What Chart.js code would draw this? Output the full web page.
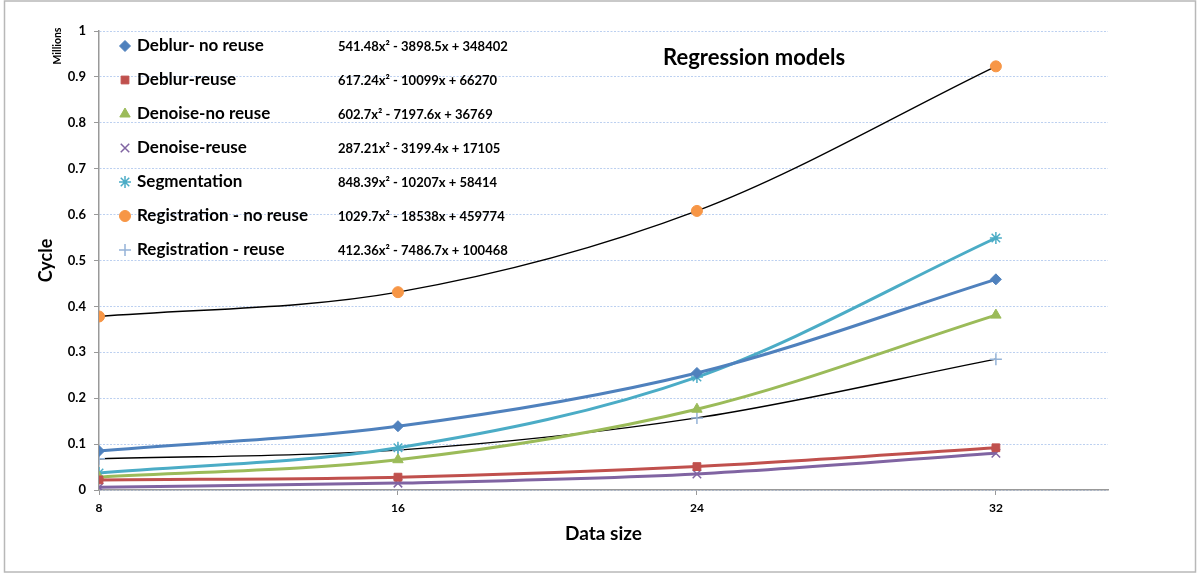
<!DOCTYPE html>
<html><head><meta charset="utf-8">
<script src="https://cdn.jsdelivr.net/npm/chart.js@4"></script>
<style>html,body{margin:0;padding:0;background:#fff}#wrap{width:1200px;height:574px;position:relative}canvas{display:block}</style>
</head><body><div id="wrap"><canvas id="c" width="1200" height="574"></canvas></div>
<script>
const dataSizes = [8, 16, 24, 32];
const xTickValues = [8, 16, 24, 32];
const deblurNoReuse = [0.085, 0.139, 0.255, 0.459];
const deblurReuse = [0.022, 0.028, 0.051, 0.092];
const denoiseNoReuse = [0.028, 0.066, 0.176, 0.381];
const denoiseReuse = [0.006, 0.015, 0.035, 0.080];
const segmentation = [0.037, 0.092, 0.246, 0.549];
const registrationNoReuse = [0.378, 0.431, 0.608, 0.923];
const registrationReuse = [0.068, 0.087, 0.157, 0.285];
const seriesNames = ['Deblur- no reuse', 'Deblur-reuse', 'Denoise-no reuse', 'Denoise-reuse', 'Segmentation', 'Registration - no reuse', 'Registration - reuse'];
const equations = ['541.48x² - 3898.5x + 348402', '617.24x² - 10099x + 66270', '602.7x² - 7197.6x + 36769', '287.21x² - 3199.4x + 17105', '848.39x² - 10207x + 58414', '1029.7x² - 18538x + 459774', '412.36x² - 7486.7x + 100468'];
const chartTitle = 'Regression models';
const yUnitLabel = 'Millions';

const FONT = 'Lato, "Open Sans", "Liberation Sans", sans-serif';
const seriesValues = [deblurNoReuse, deblurReuse, denoiseNoReuse, denoiseReuse, segmentation, registrationNoReuse, registrationReuse];
const styles = [
  {line:'#4F81BD', w:3, ps:'rectRot', r:5.5, bg:'#4F81BD', bc:'#4F81BD', bw:1},
  {line:'#C0504D', w:3, ps:'rect', r:5.5, bg:'#C0504D', bc:'#C0504D', bw:1},
  {line:'#9BBB59', w:3, ps:'triangle', r:6, bg:'#9BBB59', bc:'#9BBB59', bw:1},
  {line:'#8064A2', w:3, ps:'crossRot', r:6, bg:'#8064A2', bc:'#8064A2', bw:1.5},
  {line:'#4BACC6', w:3, ps:'star', r:6, bg:'#4BACC6', bc:'#4BACC6', bw:1.5},
  {line:'#000000', w:1.3, ps:'circle', r:5.5, bg:'#F79646', bc:'#F79646', bw:1},
  {line:'#000000', w:1.3, ps:'cross', r:6, bg:'#95B3D7', bc:'#95B3D7', bw:1.5}
];

const datasets = seriesNames.map((name, i) => ({
  label: name,
  data: dataSizes.map((x, j) => ({x: x, y: seriesValues[i][j]})),
  borderColor: styles[i].line,
  borderWidth: styles[i].w,
  pointStyle: styles[i].ps,
  pointRadius: styles[i].r,
  pointBackgroundColor: styles[i].bg,
  pointBorderColor: styles[i].bc,
  pointBorderWidth: styles[i].bw,
  cubicInterpolationMode: 'monotone',
  fill: false
}));

const decoPlugin = {
  id: 'deco',
  beforeDraw(chart) {
    const ctx = chart.ctx;
    ctx.save();
    ctx.fillStyle = '#fff';
    ctx.fillRect(0, 0, chart.width, chart.height);
    ctx.restore();
  },
  afterDraw(chart) {
    const ctx = chart.ctx;
    ctx.save();
    chart.data.datasets.forEach((ds, i) => {
      const y = 46 + 34 * i;
      ctx.fillStyle = ds.pointBackgroundColor;
      ctx.strokeStyle = ds.pointBorderColor;
      ctx.lineWidth = ds.pointBorderWidth;
      Chart.helpers.drawPoint(ctx, {pointStyle: ds.pointStyle, radius: ds.pointRadius, rotation: 0, borderWidth: ds.pointBorderWidth}, 125, y);
      ctx.fillStyle = '#000';
      ctx.font = 'bold 17px ' + FONT;
      ctx.textAlign = 'left';
      ctx.textBaseline = 'middle';
      ctx.fillText(ds.label, 137, y);
      ctx.font = 'bold 13px ' + FONT;
      ctx.fillText(equations[i], 338, y + 1);
    });
    ctx.font = 'bold 22px ' + FONT;
    ctx.fillStyle = '#000';
    ctx.textAlign = 'left';
    ctx.textBaseline = 'middle';
    ctx.fillText(chartTitle, 663, 58);
    ctx.save();
    ctx.translate(58, 46);
    ctx.rotate(-Math.PI / 2);
    ctx.font = 'bold 10.5px ' + FONT;
    ctx.textAlign = 'center';
    ctx.fillText(yUnitLabel, 0, 0);
    ctx.restore();
    ctx.strokeStyle = '#b8b8b8';
    ctx.lineWidth = 1.5;
    ctx.strokeRect(4.5, 1, 1191, 571);
    ctx.restore();
  }
};

new Chart(document.getElementById('c'), {
  type: 'line',
  data: {datasets: datasets},
  plugins: [decoPlugin],
  options: {
    responsive: false,
    animation: false,
    devicePixelRatio: 1,
    layout: {padding: {left: 0, top: 31, right: 92, bottom: 0}},
    plugins: {legend: {display: false}, tooltip: {enabled: false}},
    scales: {
      x: {
        type: 'linear', min: 8, max: 35,
        afterBuildTicks: s => { s.ticks = xTickValues.map(v => ({value: v})); },
        afterFit: s => { s.height = 84; },
        ticks: {font: {family: FONT, weight: 'bold', size: 12}, color: '#000', padding: 6, maxRotation: 0, autoSkip: false},
        grid: {drawOnChartArea: false, tickLength: 5, tickColor: '#999', lineWidth: 1},
        border: {color: '#999', width: 1.5},
        title: {display: true, text: 'Data size', font: {family: FONT, weight: 'bold', size: 19}, color: '#000', padding: {top: 0, bottom: 29}}
      },
      y: {
        min: 0, max: 1,
        afterFit: s => { s.width = 99; },
        ticks: {stepSize: 0.1, font: {family: FONT, weight: 'bold', size: 13}, color: '#000', padding: 8,
          callback: v => String(Math.round(v * 10) / 10)},
        grid: {color: '#bcd0f0', tickColor: '#999', tickLength: 5, lineWidth: 1},
        border: {color: '#999', width: 1.5, dash: [2, 1.5]},
        title: {display: true, text: 'Cycle', font: {family: FONT, weight: 'bold', size: 18}, color: '#000', padding: {top: 35, bottom: 0}}
      }
    }
  }
});
</script>
</body></html>
